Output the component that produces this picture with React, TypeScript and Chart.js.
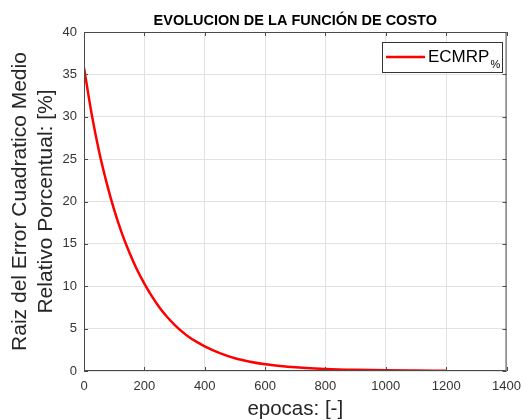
import React, { useEffect, useRef } from "react";
import { Chart, registerables } from "chart.js";

Chart.register(...registerables);

const epochs = [0, 25, 50, 75, 100, 125, 150, 175, 200, 225, 250, 275, 300, 325, 350, 375, 400, 450, 500, 550, 600, 650, 700, 800, 900, 1000, 1100, 1200];
const ecmrp = [35.8, 30.4, 25.9, 22.2, 19.0, 16.3, 14.0, 12.0, 10.3, 8.8, 7.5, 6.4, 5.45, 4.65, 3.95, 3.4, 2.9, 2.1, 1.5, 1.1, 0.8, 0.6, 0.45, 0.25, 0.14, 0.08, 0.05, 0.03];
const xTicks = { min: 0, max: 1400, step: 200 };
const yTicks = { min: 0, max: 40, step: 5 };

const titleText = "EVOLUCION DE LA FUNCIÓN DE COSTO";
const xLabel = "epocas: [-]";
const yLabelLines = ["Raiz del Error Cuadratico Medio", "Relativo Porcentual: [%]"];
const legendMain = "ECMRP";
const legendSub = "%";

const FONT = "'Liberation Sans', Arial, Helvetica, sans-serif";

const decorPlugin = {
  id: "decor",
  afterDraw(chart: any) {
    const { ctx, chartArea: a, scales } = chart;
    const xs = scales.x;
    const ys = scales.y;
    ctx.save();
    ctx.strokeStyle = "#4a4a4a";
    ctx.lineWidth = 1;
    ctx.strokeRect(a.left + 0.5, a.top + 0.5, a.right - a.left - 1, a.bottom - a.top - 1);
    const tl = 4;
    ctx.beginPath();
    for (let v = xTicks.min; v <= xTicks.max; v += xTicks.step) {
      const px = Math.round(xs.getPixelForValue(v)) + 0.5;
      ctx.moveTo(px, a.bottom);
      ctx.lineTo(px, a.bottom - tl);
      ctx.moveTo(px, a.top);
      ctx.lineTo(px, a.top + tl);
    }
    for (let v = yTicks.min; v <= yTicks.max; v += yTicks.step) {
      const py = Math.round(ys.getPixelForValue(v)) + 0.5;
      ctx.moveTo(a.left, py);
      ctx.lineTo(a.left + tl, py);
      ctx.moveTo(a.right, py);
      ctx.lineTo(a.right - tl, py);
    }
    ctx.stroke();

    const cx = (a.left + a.right) / 2;
    const cy = (a.top + a.bottom) / 2;
    ctx.fillStyle = "#000";
    ctx.textAlign = "center";
    ctx.textBaseline = "alphabetic";
    ctx.font = `bold 14.5px ${FONT}`;
    ctx.fillText(titleText, cx, 25);

    ctx.fillStyle = "#262626";
    ctx.font = `20.5px ${FONT}`;
    ctx.textBaseline = "middle";
    ctx.fillText(xLabel, cx, 409);

    ctx.save();
    ctx.translate(20, cy);
    ctx.rotate(-Math.PI / 2);
    ctx.font = `21px ${FONT}`;
    ctx.fillText(yLabelLines[0], 0, 0);
    ctx.fillText(yLabelLines[1], 0, 26.5);
    ctx.restore();

    const lx = 382, ly = 42, lw = 120, lh = 30;
    ctx.fillStyle = "#fff";
    ctx.fillRect(lx, ly, lw, lh);
    ctx.strokeStyle = "#333";
    ctx.lineWidth = 1;
    ctx.strokeRect(lx + 0.5, ly + 0.5, lw, lh);
    ctx.strokeStyle = "#ff0000";
    ctx.lineWidth = 2.5;
    ctx.beginPath();
    ctx.moveTo(386, 57);
    ctx.lineTo(425, 57);
    ctx.stroke();
    ctx.fillStyle = "#000";
    ctx.textAlign = "left";
    ctx.textBaseline = "alphabetic";
    ctx.font = `17px ${FONT}`;
    ctx.fillText(legendMain, 428, 62);
    const w = ctx.measureText(legendMain).width;
    ctx.font = `11px ${FONT}`;
    ctx.fillText(legendSub, 428 + w + 1, 68);
    ctx.restore();
  },
};

export default function App() {
  const ref = useRef<HTMLCanvasElement>(null);
  useEffect(() => {
    if (!ref.current) return;
    Chart.defaults.font.family = FONT;
    const chart = new Chart(ref.current, {
      type: "line",
      data: {
        datasets: [
          {
            label: legendMain,
            data: epochs.map((e, i) => ({ x: e, y: ecmrp[i] })),
            borderColor: "#ff0000",
            borderWidth: 2.5,
            pointRadius: 0,
            cubicInterpolationMode: "monotone",
            fill: false,
          },
        ],
      },
      options: {
        animation: false,
        responsive: false,
        layout: { padding: { top: 32, right: 17, left: 0, bottom: 0 } },
        plugins: { legend: { display: false }, title: { display: false }, tooltip: { enabled: false } },
        scales: {
          x: {
            type: "linear",
            min: xTicks.min,
            max: xTicks.max,
            ticks: { stepSize: xTicks.step, color: "#333", font: { size: 13 }, padding: 8, maxRotation: 0, callback: (v: any) => String(v) },
            grid: { color: "#e2e2e2", drawTicks: false },
            border: { display: false },
            afterFit: (s: any) => { s.height = 49; },
          },
          y: {
            type: "linear",
            min: yTicks.min,
            max: yTicks.max,
            ticks: { stepSize: yTicks.step, color: "#333", font: { size: 13 }, padding: 7, callback: (v: any) => String(v) },
            grid: { color: "#e2e2e2", drawTicks: false },
            border: { display: false },
            afterFit: (s: any) => { s.width = 84; },
          },
        },
      },
      plugins: [decorPlugin],
    });
    return () => chart.destroy();
  }, []);
  return (
    <div style={{ position: "absolute", left: 0, top: 0, width: 529, height: 420, background: "#fff" }}>
      <canvas ref={ref} width={529} height={420} />
    </div>
  );
}
